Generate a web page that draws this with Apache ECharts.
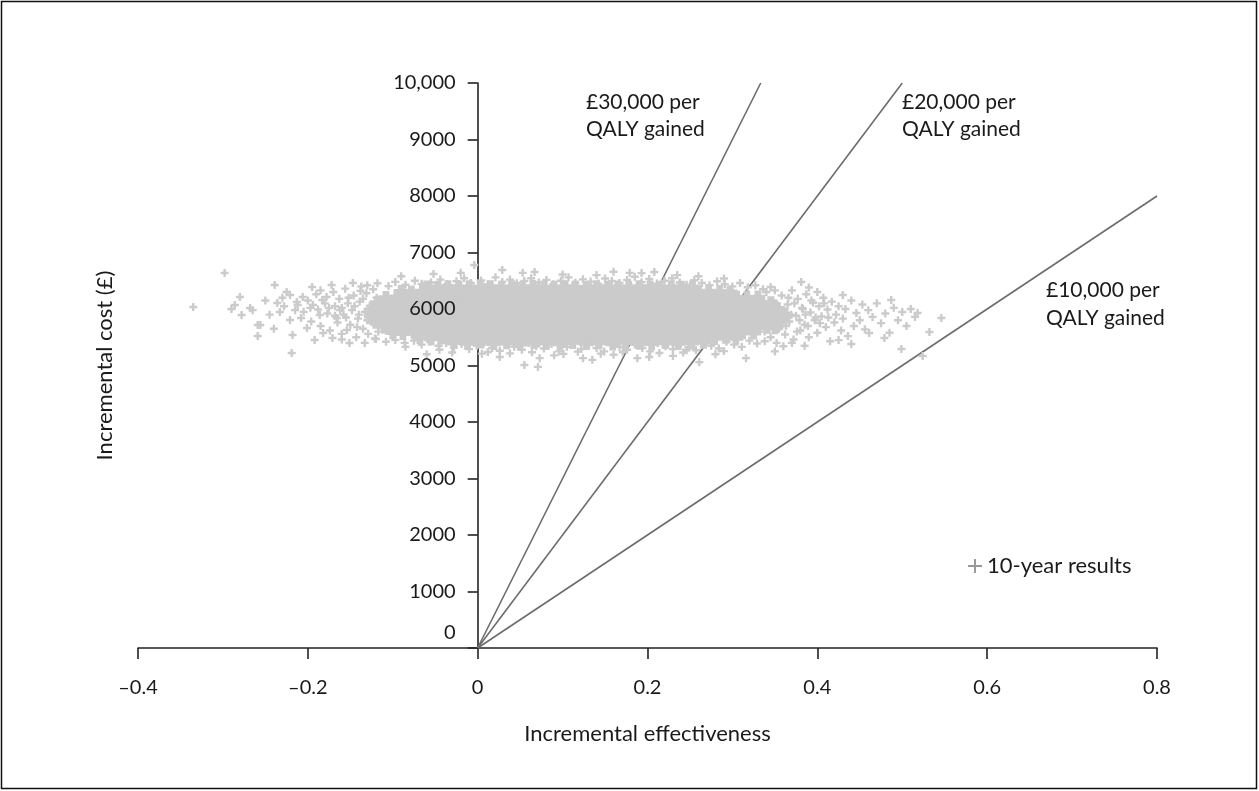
<!DOCTYPE html>
<html><head><meta charset="utf-8">
<script src="https://cdn.jsdelivr.net/npm/echarts@6/dist/echarts.min.js"></script>
<style>html,body{margin:0;padding:0;background:#fff}#c{width:1259px;height:791px}</style>
</head><body><div id="c"></div>
<script>
const xTickLabels = ['–0.4','–0.2','0','0.2','0.4','0.6','0.8'];
const yTickLabels = ['0','1000','2000','3000','4000','5000','6000','7000','8000','9000','10,000'];
const thresholds = [30000, 20000, 10000];
const thresholdLabels = ['£30,000 per\nQALY gained', '£20,000 per\nQALY gained', '£10,000 per\nQALY gained'];
const seriesName = '10-year results';

// dense core of the cloud (incremental effectiveness, incremental cost)
const coreResults = [
[-0.028,5425],[-0.012,5410],[0.004,5432],[0.019,5405],[0.034,5420],[0.05,5398],[0.066,5428],[0.081,5412],[0.097,5402],[0.112,5426],[0.128,5408],[0.143,5419],[0.159,5400],[0.174,5430],[0.19,5411],[0.205,5404],[0.221,5424],[0.236,5409],[0.252,5418],[0.266,5430],
[-0.068,5512],[-0.055,5490],[-0.043,5505],[-0.031,5488],[-0.018,5515],[-0.006,5495],[0.007,5508],[0.019,5484],[0.031,5502],[0.044,5492],[0.056,5517],[0.068,5486],[0.081,5500],[0.093,5511],[0.106,5489],[0.118,5504],[0.131,5493],[0.143,5514],[0.156,5487],[0.168,5503],[0.18,5496],[0.193,5510],[0.205,5485],[0.217,5506],[0.23,5494],[0.242,5513],[0.255,5490],[0.267,5507],[0.279,5497],[0.292,5516],[0.304,5499],
[-0.1,5598],[-0.088,5582],[-0.075,5604],[-0.063,5587],[-0.05,5596],[-0.038,5579],[-0.025,5601],[-0.013,5590],[0,5584],[0.012,5603],[0.025,5588],[0.037,5597],[0.05,5580],[0.062,5605],[0.075,5592],[0.087,5585],[0.1,5600],[0.112,5589],[0.125,5594],[0.137,5578],[0.15,5602],[0.162,5591],[0.175,5586],[0.187,5599],[0.2,5583],[0.212,5604],[0.225,5593],[0.237,5581],[0.25,5597],[0.262,5588],[0.275,5603],[0.287,5590],[0.3,5584],[0.312,5599],[0.325,5592],
[-0.11,5695],[-0.098,5683],[-0.085,5702],[-0.072,5688],[-0.06,5697],[-0.047,5680],[-0.035,5699],[-0.022,5686],[-0.01,5693],[0.003,5705],[0.016,5684],[0.028,5696],[0.041,5689],[0.053,5701],[0.066,5682],[0.078,5694],[0.091,5687],[0.103,5703],[0.116,5690],[0.128,5681],[0.141,5698],[0.153,5692],[0.166,5685],[0.178,5700],[0.191,5688],[0.203,5696],[0.216,5683],[0.228,5702],[0.241,5691],[0.253,5686],[0.266,5699],[0.278,5684],[0.291,5697],[0.303,5690],[0.316,5703],[0.328,5687],[0.341,5695],[0.35,5684],
[-0.12,5785],[-0.107,5797],[-0.095,5781],[-0.082,5794],[-0.07,5788],[-0.057,5800],[-0.045,5783],[-0.032,5792],[-0.02,5786],[-0.007,5799],[0.005,5782],[0.018,5795],[0.03,5789],[0.043,5801],[0.055,5784],[0.068,5793],[0.08,5787],[0.093,5798],[0.105,5780],[0.118,5796],[0.13,5790],[0.143,5784],[0.155,5799],[0.168,5788],[0.18,5793],[0.193,5781],[0.205,5797],[0.218,5786],[0.23,5800],[0.243,5791],[0.255,5783],[0.268,5796],[0.28,5789],[0.293,5794],[0.305,5782],[0.318,5798],[0.33,5787],[0.343,5793],[0.356,5785],
[-0.125,5893],[-0.113,5881],[-0.1,5898],[-0.088,5886],[-0.075,5895],[-0.063,5880],[-0.05,5901],[-0.038,5889],[-0.025,5884],[-0.013,5897],[0,5890],[0.012,5882],[0.025,5899],[0.037,5887],[0.05,5894],[0.062,5881],[0.075,5900],[0.087,5891],[0.1,5885],[0.112,5896],[0.125,5888],[0.137,5902],[0.15,5883],[0.162,5895],[0.175,5890],[0.187,5879],[0.2,5897],[0.212,5886],[0.225,5893],[0.237,5881],[0.25,5899],[0.262,5888],[0.275,5894],[0.287,5883],[0.3,5896],[0.312,5889],[0.325,5884],[0.337,5898],[0.35,5887],[0.362,5893],
[-0.122,5987],[-0.11,5999],[-0.097,5983],[-0.085,5995],[-0.072,5990],[-0.06,6001],[-0.047,5984],[-0.035,5993],[-0.022,5988],[-0.01,6000],[0.003,5982],[0.015,5996],[0.028,5989],[0.04,5985],[0.053,5998],[0.065,5991],[0.078,5980],[0.09,5994],[0.103,5988],[0.115,6002],[0.128,5986],[0.14,5995],[0.153,5981],[0.165,5997],[0.178,5990],[0.19,5984],[0.203,5999],[0.215,5987],[0.228,5993],[0.24,5982],[0.253,5996],[0.265,5989],[0.278,5985],[0.29,5998],[0.303,5990],[0.315,5983],[0.328,5995],[0.34,5988],[0.353,5992],
[-0.118,6094],[-0.105,6082],[-0.093,6098],[-0.08,6087],[-0.068,6092],[-0.055,6080],[-0.043,6099],[-0.03,6088],[-0.018,6095],[-0.005,6083],[0.007,6097],[0.02,6090],[0.032,6084],[0.045,6100],[0.057,6086],[0.07,6093],[0.082,6081],[0.095,6096],[0.107,6089],[0.12,6085],[0.132,6098],[0.145,6091],[0.157,6083],[0.17,6097],[0.182,6088],[0.195,6094],[0.207,6082],[0.22,6099],[0.232,6087],[0.245,6092],[0.257,6084],[0.27,6096],[0.282,6089],[0.295,6083],[0.307,6097],[0.32,6090],[0.332,6086],[0.345,6094],
[-0.108,6185],[-0.095,6197],[-0.083,6183],[-0.07,6194],[-0.058,6188],[-0.045,6200],[-0.033,6184],[-0.02,6193],[-0.008,6187],[0.005,6199],[0.017,6182],[0.03,6195],[0.042,6189],[0.055,6184],[0.067,6198],[0.08,6190],[0.092,6183],[0.105,6196],[0.117,6188],[0.13,6201],[0.142,6185],[0.155,6194],[0.167,6187],[0.18,6199],[0.192,6183],[0.205,6192],[0.217,6188],[0.23,6197],[0.242,6182],[0.255,6195],[0.267,6189],[0.28,6185],[0.292,6198],[0.305,6190],[0.317,6184],[0.33,6193],
[-0.09,6294],[-0.078,6282],[-0.065,6297],[-0.053,6288],[-0.04,6284],[-0.028,6299],[-0.015,6290],[-0.003,6283],[0.01,6296],[0.022,6289],[0.035,6293],[0.047,6281],[0.06,6298],[0.072,6287],[0.085,6294],[0.097,6285],[0.11,6300],[0.122,6291],[0.135,6283],[0.147,6297],[0.16,6288],[0.172,6295],[0.185,6282],[0.197,6298],[0.21,6290],[0.222,6286],[0.235,6296],[0.247,6289],[0.26,6283],[0.272,6297],[0.285,6291],[0.297,6285],
[-0.06,6372],[-0.047,6365],[-0.035,6378],[-0.022,6368],[-0.01,6375],[0.003,6363],[0.015,6377],[0.028,6369],[0.04,6374],[0.053,6362],[0.065,6379],[0.078,6370],[0.09,6366],[0.103,6376],[0.115,6371],[0.128,6364],[0.14,6378],[0.153,6369],[0.165,6373],[0.178,6365],[0.19,6377],[0.203,6370],[0.215,6367],[0.228,6375],[0.24,6368],[0.253,6372]
];

// fringe, tails and outliers of the cloud
const spreadResults = [
[-0.13,6420],[-0.118,6455],[-0.105,6405],[-0.097,6480],[-0.085,6430],[-0.074,6500],[-0.066,6445],[-0.055,6470],[-0.044,6520],[-0.036,6440],[-0.025,6490],[-0.016,6545],[-0.008,6460],[0.004,6505],[0.012,6440],[0.021,6560],[0.029,6480],[0.038,6520],[0.046,6455],[0.055,6495],[0.063,6545],[0.072,6470],[0.081,6515],[0.089,6440],[0.098,6500],[0.107,6560],[0.115,6465],[0.124,6525],[0.133,6485],[0.142,6450],[0.15,6540],[0.158,6495],[0.167,6460],[0.176,6515],[0.185,6570],[0.193,6475],[0.202,6530],[0.211,6450],[0.22,6500],[0.229,6545],[0.238,6470],[0.246,6430],[0.255,6510],[0.264,6460],[0.273,6420],[0.282,6490],[0.291,6440],[0.3,6400],[0.309,6460],[0.318,6385],[0.327,6420],[0.336,6350],[0.345,6390],
[-0.004,6780],[0.029,6690],[0.053,6640],[0.067,6655],[0.179,6640],[0.193,6635],[0.208,6655],[-0.052,6620],[0.1,6610],[0.14,6600],[0.26,6580],[-0.09,6580],[0.16,6660],[-0.02,6640],[0.235,6600],[0.29,6540],
[-0.12,5470],[-0.108,5420],[-0.097,5450],[-0.086,5400],[-0.075,5440],[-0.066,5370],[-0.056,5420],[-0.046,5350],[-0.037,5400],[-0.028,5320],[-0.019,5380],[-0.01,5290],[-0.001,5350],[0.008,5410],[0.017,5310],[0.026,5260],[0.034,5370],[0.043,5330],[0.052,5280],[0.06,5400],[0.069,5340],[0.078,5300],[0.087,5380],[0.096,5250],[0.105,5330],[0.113,5400],[0.122,5290],[0.131,5360],[0.14,5310],[0.149,5250],[0.158,5390],[0.167,5330],[0.176,5280],[0.185,5370],[0.194,5310],[0.203,5250],[0.212,5400],[0.221,5340],[0.23,5290],[0.239,5380],[0.248,5320],[0.257,5270],[0.266,5410],[0.275,5350],[0.284,5300],[0.293,5420],[0.302,5370],[0.311,5330],[0.32,5440],[0.329,5390],[0.338,5430],
[0.012,5240],[0.038,5215],[0.064,5235],[0.101,5205],[0.118,5245],[0.145,5210],[0.171,5240],[0.214,5220],[0.242,5230],[0.29,5255],[-0.045,5280],[-0.085,5330],
[0.026,5150],[0.055,5010],[0.071,4975],[0.073,5130],[0.124,5130],[0.135,5100],[0.188,5130],[0.202,5150],[0.246,5270],[0.261,5060],[0.316,5130],[-0.06,5200],[0.09,5180],[0.16,5190],[0.23,5170],[0.28,5200],[0.35,5250],[-0.03,5230],[0.005,5210],
[-0.335,6035],[-0.298,6637],[-0.286,6071],[-0.28,6212],[-0.268,6018],[-0.278,5894],[-0.259,5717],[-0.259,5522],[-0.239,6425],[-0.236,6106],[-0.233,5947],[-0.221,6248],[-0.221,5805],[-0.219,5221],[-0.218,5540],[-0.212,6071],[-0.206,6212],[-0.201,5664],[-0.195,6389],[-0.194,6071],[-0.192,5451],[-0.186,5894],[-0.182,5575],[-0.178,6212],[-0.172,6425],[-0.171,5487],[-0.166,5841],[-0.16,6018],[-0.154,5628],[-0.151,5398],[-0.147,6460],[-0.225,6301],[-0.213,6124],[-0.256,5717],
[-0.205,5950],[-0.2,6150],[-0.196,5780],[-0.19,6260],[-0.188,5990],[-0.185,5700],[-0.18,6100],[-0.177,5920],[-0.174,5620],[-0.17,6300],[-0.168,6050],[-0.165,5760],[-0.163,6180],[-0.16,5560],[-0.158,5900],[-0.156,6360],[-0.153,6100],[-0.15,5720],[-0.148,5980],[-0.146,6240],[-0.143,5500],[-0.141,5830],[-0.139,6130],[-0.137,6400],[-0.135,5650],[-0.133,5950],[-0.131,6280],[-0.129,5560],[-0.127,6060],[-0.125,5770],[-0.123,6350],[-0.121,5480],[-0.119,6200],[-0.117,5600],[-0.145,6050],[-0.14,5900],[-0.135,6180],[-0.13,5800],[-0.128,6000],[-0.155,5850],[-0.162,5980],[-0.142,5680],[-0.138,6320],[-0.152,6200],[-0.168,5880],[-0.175,6020],[-0.183,6160],[-0.197,6020],[-0.208,5840],[-0.215,5980],[-0.228,6050],[-0.245,5900],[-0.25,6150],[-0.265,5980],[-0.29,6000],[-0.24,5650],[-0.23,6200],[-0.185,6330],[-0.16,5460],[-0.133,5400],
[0.381,6478],[0.487,6159],[0.5,5947],[0.518,5929],[0.546,5841],[0.532,5593],[0.499,5292],[0.524,5168],[0.43,6248],[0.479,5487],[0.461,5575],
[0.34,6300],[0.345,5500],[0.348,6150],[0.352,5400],[0.355,5650],[0.358,6240],[0.36,5950],[0.362,5550],[0.365,6080],[0.367,5780],[0.37,6330],[0.372,5460],[0.375,5880],[0.377,6180],[0.38,5620],[0.382,6020],[0.385,5720],[0.387,6260],[0.39,5500],[0.392,5940],[0.395,6110],[0.397,5800],[0.4,5580],[0.402,6050],[0.405,5870],[0.407,6200],[0.41,5680],[0.412,5990],[0.415,5430],[0.417,6130],[0.42,5760],[0.422,5900],[0.425,6050],[0.428,5620],[0.43,5830],[0.433,6000],[0.436,5520],[0.44,6150],[0.443,5700],[0.446,5930],[0.45,5800],[0.453,6080],[0.456,5640],[0.46,5980],[0.465,5860],[0.47,6100],[0.475,5750],[0.48,5920],[0.485,5580],[0.49,6020],[0.495,5800],[0.505,5700],[0.51,6000],[0.515,5860],[0.37,5400],[0.39,6380],[0.35,6330],[0.36,5340],[0.385,5350],[0.4,6300],[0.425,5450],[0.44,5380],
[0.338,5600],[0.342,5850],[0.346,6050],[0.35,5750],[0.354,6000],[0.357,5850],[0.363,5700],[0.366,6200],[0.369,5900],[0.373,6100],[0.376,5600],[0.379,5800],[0.383,6000],[0.386,5900],[0.389,5700],[0.393,6150],[0.398,5850],[0.403,5750],[0.408,6100],[0.413,5850]
];

const FONT = 'Lato, "Open Sans", sans-serif';
const INK = '#1a1a1a';
const CLOUD = '#cbcbcb';
const PLUS_THIN = 'path://M3.5,0H6.5V3.5H10V6.5H6.5V10H3.5V6.5H0V3.5H3.5Z';
const PLUS_THICK = 'path://M2.75,0H7.25V2.75H10V7.25H7.25V10H2.75V7.25H0V2.75H2.75Z';
const PLUS_LEGEND = 'path://M4.3,0H5.7V4.3H10V5.7H5.7V10H4.3V5.7H0V4.3H4.3Z';

const X_MIN = -0.4, X_MAX = 0.8, Y_MAX = 10000;
const GRID_LEFT = 138, GRID_RIGHT = 102, GRID_W = 1259 - GRID_LEFT - GRID_RIGHT;
// y axis sits at x = 0: offset it inward from the grid's left edge
const Y_AXIS_OFFSET = -GRID_W * (0 - X_MIN) / (X_MAX - X_MIN);
const thresholdLines = thresholds.map(t => {
  const xe = Math.min(X_MAX, Y_MAX / t);
  return [[0, 0], [xe, xe * t]];
});

const chart = echarts.init(document.getElementById('c'), null, {renderer: 'canvas'});
const yCommon = {type: 'value', min: 0, max: Y_MAX, interval: 1000, splitLine: {show: false}};
chart.setOption({
  animation: false,
  backgroundColor: '#fff',
  textStyle: {fontFamily: FONT},
  grid: {left: GRID_LEFT, right: GRID_RIGHT, top: 83, bottom: 143, containLabel: false, outerBoundsMode: 'none'},
  xAxis: {
    type: 'value', min: X_MIN, max: X_MAX, interval: 0.2,
    name: 'Incremental effectiveness', nameLocation: 'middle', nameGap: 75,
    nameTextStyle: {fontSize: 22, color: INK, fontFamily: FONT},
    axisLine: {lineStyle: {color: '#222', width: 1.6}},
    axisTick: {inside: false, length: 11, lineStyle: {color: '#222', width: 1.6}},
    axisLabel: {margin: 30, fontSize: 20, color: INK, fontFamily: FONT,
      formatter: (v, i) => xTickLabels[i]},
    splitLine: {show: false}
  },
  yAxis: [
    Object.assign({}, yCommon, {
      position: 'left', offset: Y_AXIS_OFFSET,
      axisLine: {onZero: false, lineStyle: {color: '#222', width: 1.6}},
      axisTick: {inside: false, length: 10, lineStyle: {color: '#222', width: 1.6}},
      axisLabel: {show: false}
    }),
    Object.assign({}, yCommon, {
      position: 'left', offset: Y_AXIS_OFFSET, z: 10,
      name: 'Incremental cost (£)', nameLocation: 'middle', nameGap: 362, nameRotate: 90,
      nameTextStyle: {fontSize: 22, color: INK, fontFamily: FONT},
      axisLine: {show: false, onZero: false},
      axisTick: {show: false},
      axisLabel: {margin: 22, fontSize: 20, color: INK, fontFamily: FONT,
        formatter: (v, i) => i === 0 ? '{z|' + yTickLabels[i] + '}' : yTickLabels[i],
        rich: {z: {fontSize: 20, color: INK, fontFamily: FONT, padding: [0, 0, 30, 0]}}}
    })
  ],
  legend: {
    data: [seriesName], left: 963, top: 550, icon: PLUS_LEGEND,
    itemWidth: 14, itemHeight: 14, itemGap: 8,
    itemStyle: {color: '#999'},
    textStyle: {fontSize: 22, color: INK, fontFamily: FONT}
  },
  series: [
    ...thresholdLines.map((d, k) => ({
      type: 'line', name: 'threshold' + k, data: d, symbol: 'none', silent: true,
      lineStyle: {color: '#6c6c6c', width: 1.6}, z: 2
    })),
    {type: 'scatter', name: seriesName, data: coreResults, symbol: PLUS_THICK, symbolSize: 15,
      itemStyle: {color: CLOUD, opacity: 1}, z: 3},
    {type: 'scatter', name: seriesName, data: spreadResults, symbol: PLUS_THIN, symbolSize: 8,
      itemStyle: {color: CLOUD, opacity: 1}, z: 3}
  ],
  graphic: [
    {type: 'rect', shape: {x: 1.5, y: 1.5, width: 1255, height: 787}, style: {fill: 'none', stroke: '#111', lineWidth: 1.5}, silent: true},
    {type: 'text', left: 586, top: 89, style: {text: thresholdLabels[0], fontSize: 21, lineHeight: 27, fill: INK, fontFamily: FONT}},
    {type: 'text', left: 902, top: 89, style: {text: thresholdLabels[1], fontSize: 21, lineHeight: 27, fill: INK, fontFamily: FONT}},
    {type: 'text', left: 1046, top: 276, style: {text: thresholdLabels[2], fontSize: 21, lineHeight: 28, fill: INK, fontFamily: FONT}}
  ]
});
</script>
</body></html>
